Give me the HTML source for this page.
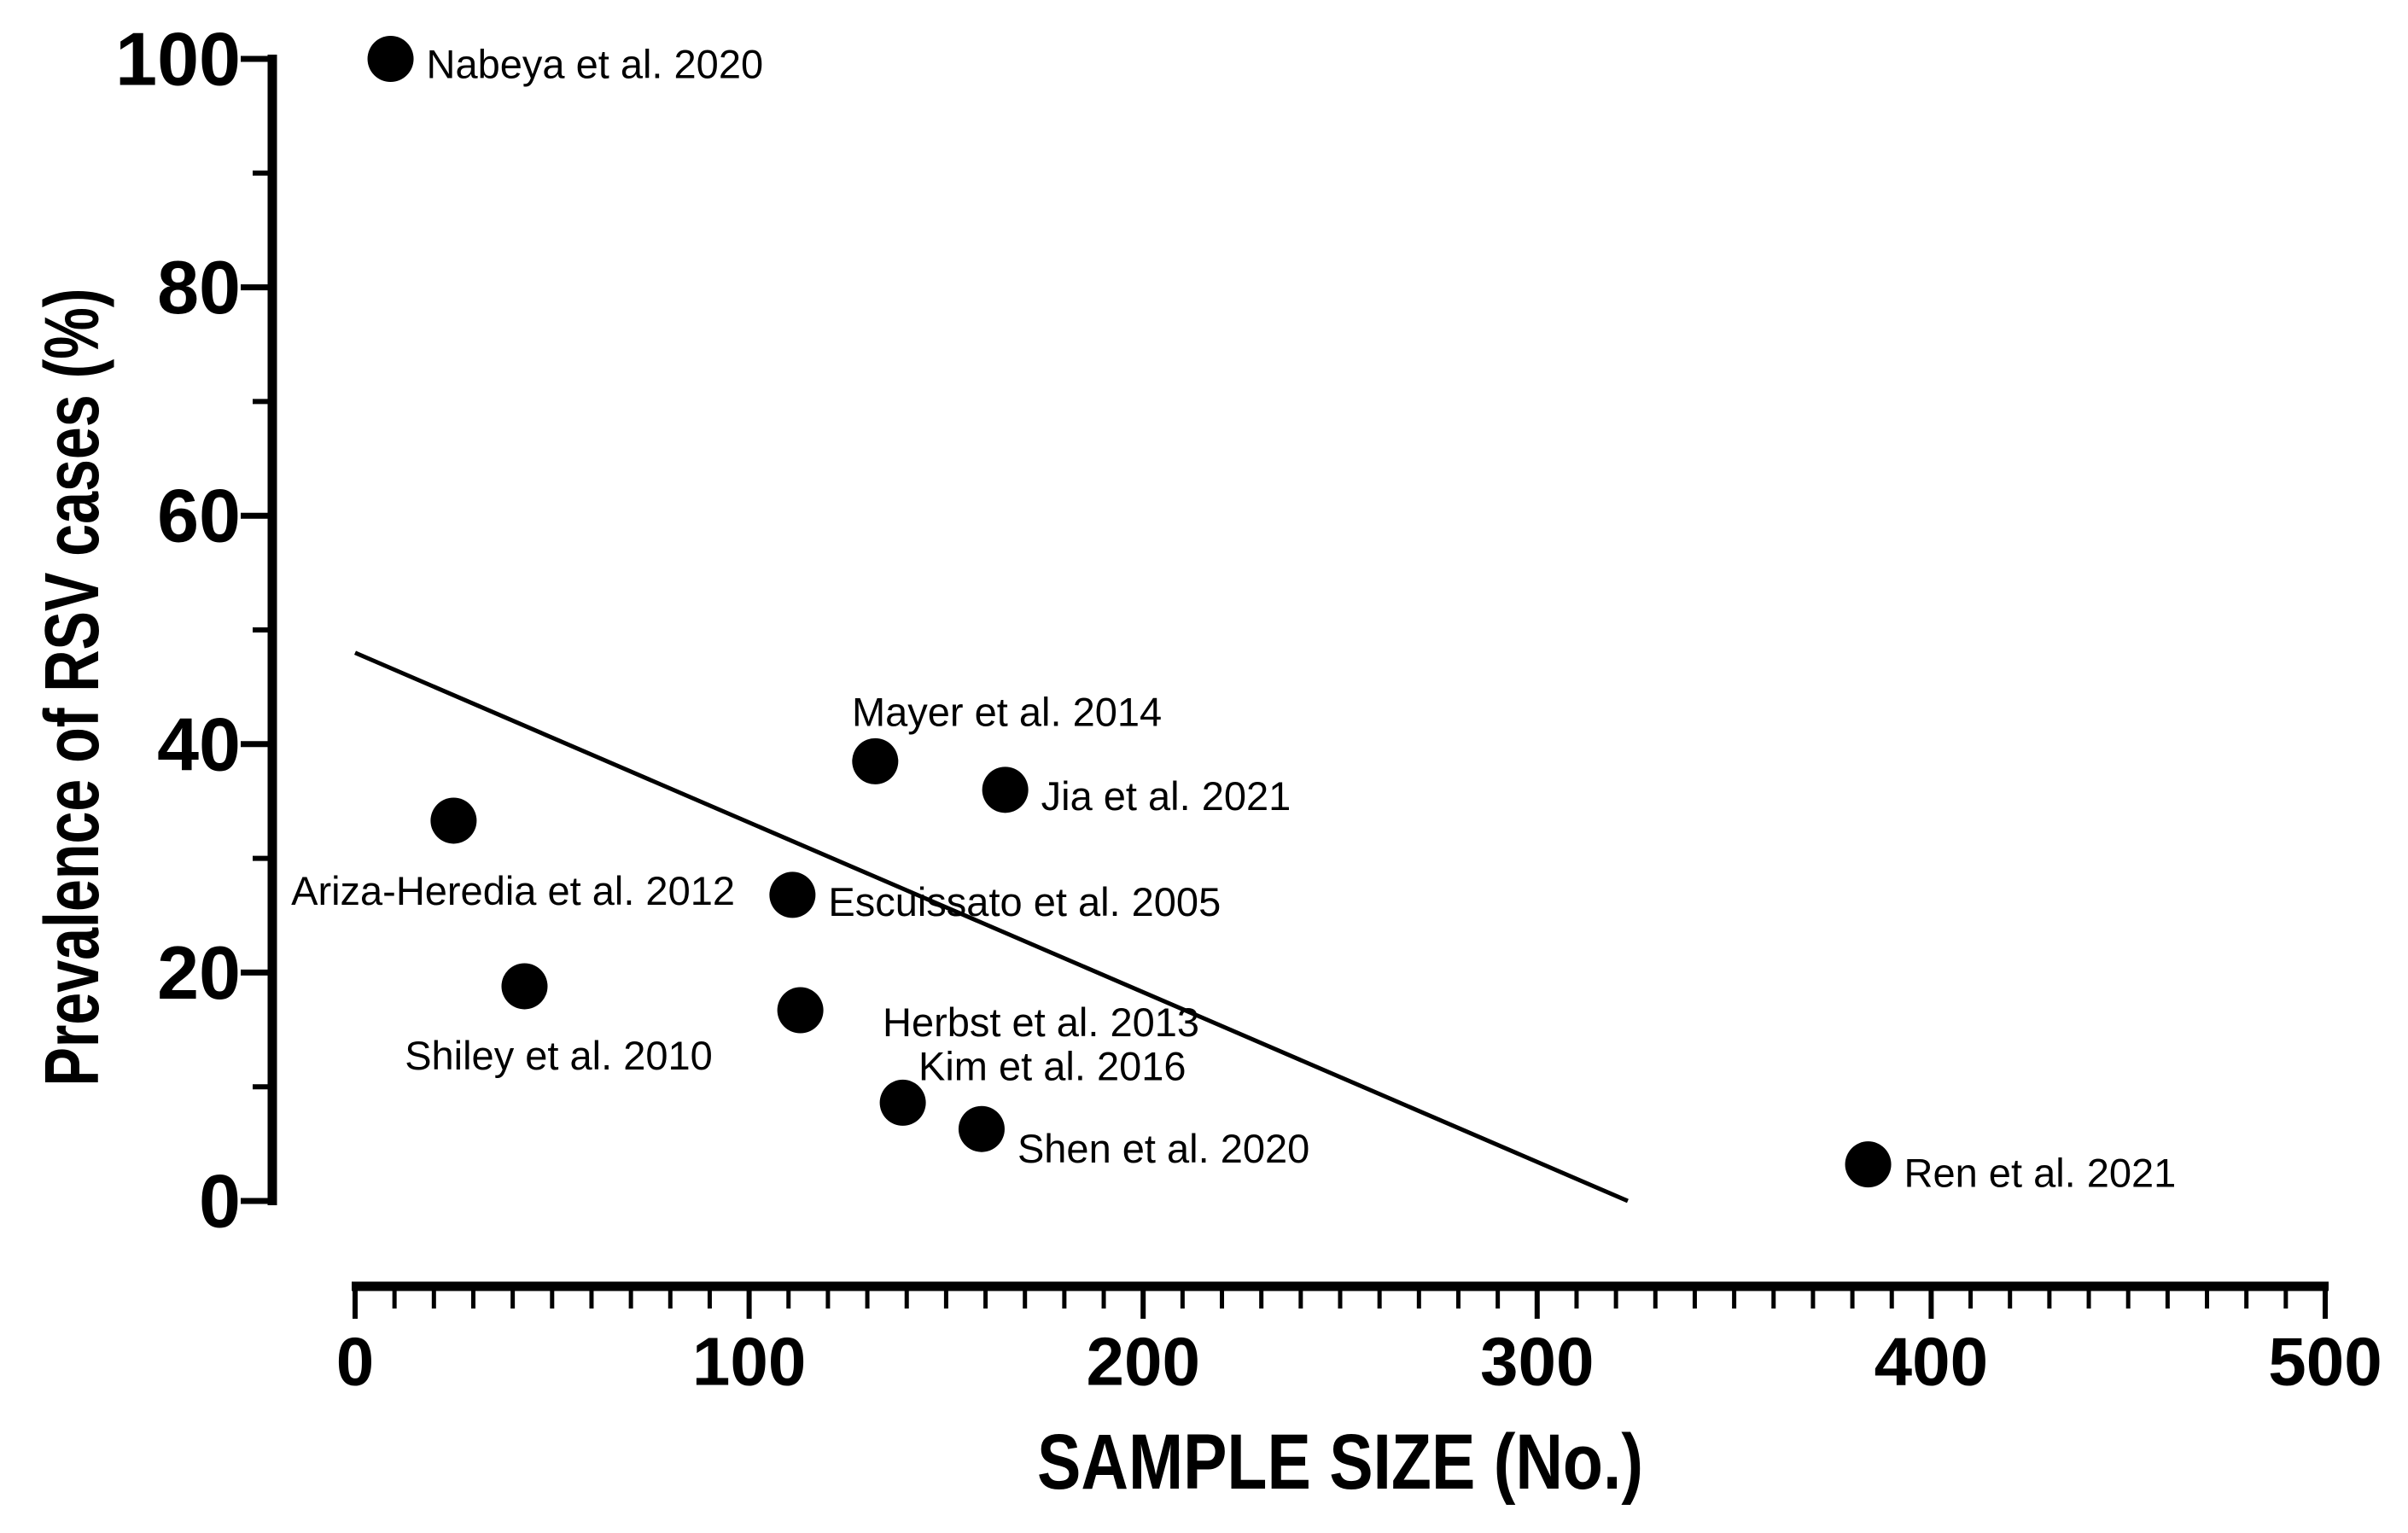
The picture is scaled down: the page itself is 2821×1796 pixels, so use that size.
<!DOCTYPE html>
<html><head><meta charset="utf-8"><style>
html,body{margin:0;padding:0;background:#fff;}
svg{display:block;font-family:"Liberation Sans",Arial,sans-serif;}
</style></head><body>
<svg id="chart" width="2821" height="1796" viewBox="0 0 2821 1796">
<rect width="2821" height="1796" fill="#fff"/>
<g id="axes"></g><g id="marks"></g>
<text transform="translate(85,805) rotate(-90)" text-anchor="middle" dominant-baseline="central" font-size="90" font-weight="bold" textLength="935" lengthAdjust="spacingAndGlyphs">Prevalence of RSV cases (%)</text>
<text x="1570" y="1713" text-anchor="middle" dominant-baseline="central" font-size="92" font-weight="bold" textLength="710" lengthAdjust="spacingAndGlyphs">SAMPLE SIZE (No.)</text>
</svg>
<script>
const studies=["Nabeya et al. 2020","Ariza-Heredia et al. 2012","Shiley et al. 2010","Escuissato et al. 2005","Herbst et al. 2013","Mayer et al. 2014","Jia et al. 2021","Kim et al. 2016","Shen et al. 2020","Ren et al. 2021"];
const sampleSize=[9,25,43,111,113,132,165,139,159,384];
const prevalence=[100,33.3,18.8,26.8,16.7,38.5,36,8.6,6.3,3.2];
const xTicks=[0,100,200,300,400,500];
const yTicks=[0,20,40,60,80,100];
const fitStart=[0,48];
const fitEnd=[323,0];
const labelDx=[42,0,40,42,0,-40,42,0,42,42];
const labelDy=[6,82,81,8,14,-58,7,-43,23,10];
const labelAnchor=["start","end","middle","start","start","start","start","start","start","start"];
const labelAbsX=[null,861,null,null,1034,998,null,1076,null,null];
const NS="http://www.w3.org/2000/svg";
const X=v=>416+v*4.616, Y=v=>1407-v*13.38;
const ax=document.getElementById('axes'), mk=document.getElementById('marks');
function el(t,a,p){const e=document.createElementNS(NS,t);for(const k in a)e.setAttribute(k,a[k]);p.appendChild(e);return e;}
let e=el('line',{x1:319,y1:Y(100)-5,x2:319,y2:Y(0)+5,stroke:'#000','stroke-width':11},ax);


for(let v=0;v<=100;v+=10){const maj=v%20===0;
 e=el('line',{x1:maj?282:296,y1:Y(v),x2:319,y2:Y(v),stroke:'#000','stroke-width':maj?7:6},ax);
 
 }
yTicks.forEach(v=>{e=el('text',{x:282,y:Y(v),'text-anchor':'end','dominant-baseline':'central','font-size':88,'font-weight':'bold'},ax);e.textContent=v;
 
 });
e=el('line',{x1:X(0)-4,y1:1507,x2:X(500)+4,y2:1507,stroke:'#000','stroke-width':11},ax);


for(let v=0;v<=500;v+=10){const maj=v%100===0;
 e=el('line',{x1:X(v),y1:1507,x2:X(v),y2:maj?1545:1533,stroke:'#000','stroke-width':maj?6:5},ax);
 
 }
xTicks.forEach(v=>{e=el('text',{x:X(v),y:1595,'text-anchor':'middle','dominant-baseline':'central','font-size':80,'font-weight':'bold'},ax);e.textContent=v;
 
 });
e=el('line',{x1:X(fitStart[0]),y1:Y(fitStart[1]),x2:X(fitEnd[0]),y2:Y(fitEnd[1]),stroke:'#000','stroke-width':5},mk);


studies.forEach((s,i)=>{
 const cx=X(sampleSize[i]),cy=Y(prevalence[i]);
 e=el('circle',{cx:cx,cy:cy,r:27,fill:'#000'},mk);
 
 
 const tx=labelAbsX[i]!==null?labelAbsX[i]:cx+labelDx[i];
 e=el('text',{x:tx,y:cy+labelDy[i],'text-anchor':labelAnchor[i],'dominant-baseline':'central','font-size':47},mk);
 e.textContent=s;
 
 
});
</script>
</body></html>
